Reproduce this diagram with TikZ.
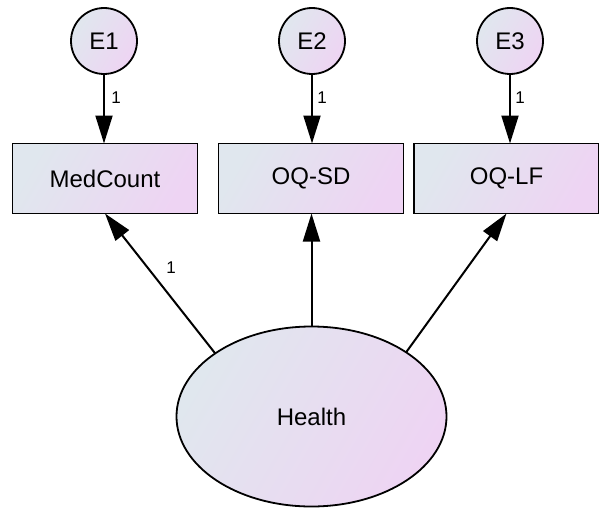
\documentclass[tikz,border=0pt]{standalone}
\usepackage{fontspec}
\setmainfont{Liberation Sans}
\usetikzlibrary{shapes.geometric,arrows.meta,calc}
\definecolor{cA}{RGB}{224,231,238}
\definecolor{cB}{RGB}{238,212,243}
\tikzset{
  grad/.style={left color=cA, right color=cB, shading angle=60},
  errc/.style={circle, draw, line width=1.8pt, grad, minimum size=66pt, inner sep=0pt, outer sep=0pt, font=\fontsize{24}{26}\selectfont},
  obs/.style={rectangle, draw, line width=1.8pt, grad, minimum width=185pt, minimum height=70pt, inner sep=0pt, outer sep=0pt, font=\fontsize{24}{26}\selectfont},
  lat/.style={ellipse, draw, line width=1.8pt, grad, minimum width=270pt, minimum height=180pt, inner sep=0pt, outer sep=0pt, font=\fontsize{24}{26}\selectfont},
  arr/.style={line width=2pt, -{Triangle[length=28pt,width=17pt]}},
  lbl/.style={font=\fontsize{17}{19}\selectfont, inner sep=0pt}
}
\begin{document}
\begin{tikzpicture}[x=1pt,y=-1pt]
\useasboundingbox (0,0) rectangle (599,511);
\node[errc] (E1) at (104,41) {E1};
\node[errc] (E2) at (312,41) {E2};
\node[errc] (E3) at (510,41) {E3};
\node[obs] (M) at (105,178.5) {MedCount};
\node[obs] (SD) at (311,178.5) {OQ-SD};
\node[obs] (LF) at (506.5,178.5) {OQ-LF};
\node[lat] (H) at (311.5,416.5) {Health};
\coordinate (HL) at ($(H.center)+(135.5:135pt and 90pt)$);
\coordinate (HR) at ($(H.center)+(45.5:135pt and 90pt)$);
\draw[arr] (E1.south) -- (E1.south |- M.north);
\draw[arr] (E2.south) -- (E2.south |- SD.north);
\draw[arr] (E3.south) -- (E3.south |- LF.north);
\draw[arr] (HL) -- (M.south);
\draw[arr] (H.north) -- (H.north |- SD.south);
\draw[arr] (HR) -- (LF.south);
\node[lbl] (l1) at (116,98) {1};
\node[lbl] (l2) at (322,98) {1};
\node[lbl] (l3) at (520,98) {1};
\node[lbl] (l4) at (171,268) {1};
\end{tikzpicture}
\end{document}
